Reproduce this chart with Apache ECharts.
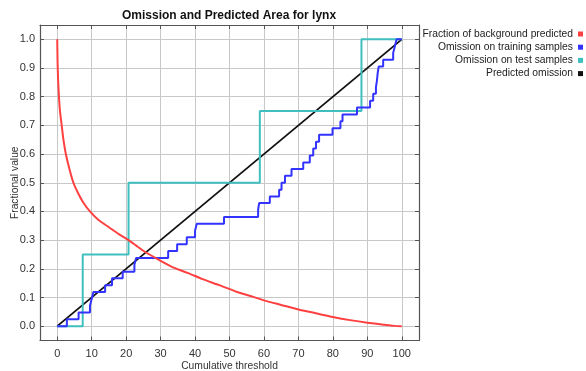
<!DOCTYPE html>
<html>
<head>
<meta charset="utf-8">
<script src="https://cdn.jsdelivr.net/npm/echarts@6/dist/echarts.min.js"></script>
<style>
  html, body { margin: 0; padding: 0; background: #ffffff; }
  #chart { width: 586px; height: 371px; }
</style>
</head>
<body>
<div id="chart"></div>
<script>
// Tick values for both axes
const xTicks = [0, 10, 20, 30, 40, 50, 60, 70, 80, 90, 100];
const yTicks = [0, 0.1, 0.2, 0.3, 0.4, 0.5, 0.6, 0.7, 0.8, 0.9, 1.0];

// Fraction of background predicted vs cumulative threshold
const fractionX = [0, 0.1, 0.25, 0.5, 0.8, 1.3, 1.8, 2.5, 3.5, 4.7, 6.0, 7.6, 9.5, 12, 15, 18, 20.7, 23, 26, 30, 34, 38, 42, 47, 52, 56.9, 60, 65, 70, 75, 80, 85, 90, 95, 98, 100];
const fractionY = [1.0, 0.92, 0.86, 0.80, 0.75, 0.70, 0.65, 0.60, 0.55, 0.50, 0.465, 0.43, 0.40, 0.37, 0.345, 0.32, 0.30, 0.28, 0.255, 0.228, 0.203, 0.185, 0.165, 0.143, 0.12, 0.102, 0.09, 0.074, 0.058, 0.045, 0.032, 0.021, 0.012, 0.005, 0.001, 0];

// Omission on training samples (steps at each sample's threshold)
const trainX = [0, 2.8, 6.2, 9.5, 10.0, 10.5, 13.9, 15.9, 19.0, 22.4, 22.9, 32.2, 34.8, 37.6, 40.0, 40.5, 48.4, 58.3, 58.6, 61.7, 64.4, 65.1, 66.1, 68.0, 71.4, 73.3, 74.3, 75.1, 76.0, 79.9, 82.2, 82.8, 87.0, 90.8, 91.7, 92.5, 92.8, 93.0, 93.3, 94.6, 97.5, 98.0, 98.5, 100];
const trainY = [0, 0.024, 0.048, 0.071, 0.095, 0.119, 0.143, 0.167, 0.190, 0.214, 0.238, 0.262, 0.286, 0.310, 0.333, 0.357, 0.381, 0.405, 0.429, 0.452, 0.476, 0.500, 0.524, 0.548, 0.571, 0.595, 0.619, 0.643, 0.667, 0.690, 0.714, 0.738, 0.762, 0.786, 0.810, 0.833, 0.857, 0.881, 0.905, 0.929, 0.952, 0.976, 1.0, 1.0];

// Omission on test samples
const testX = [0, 7.4, 20.7, 58.8, 88.3, 100];
const testY = [0, 0.25, 0.5, 0.75, 1.0, 1.0];

// Predicted omission
const predX = [0, 100];
const predY = [0, 1];

const names = ['Fraction of background predicted', 'Omission on training samples', 'Omission on test samples', 'Predicted omission'];
const colors = ['#ff4040', '#3333ff', '#3fbfbf', '#111111'];

const zip = (xs, ys) => xs.map((x, i) => [x, ys[i]]);
const font = "'Liberation Sans', Arial, sans-serif";
const frameColor = '#555555';

const chart = echarts.init(document.getElementById('chart'), null, { renderer: 'canvas' });

const baseX = {
  type: 'value', min: -5, max: 105,
  axisLine: { show: true, onZero: false, lineStyle: { color: frameColor, width: 1.2 } },
  axisTick: { show: true, inside: true, length: 4, customValues: xTicks, lineStyle: { color: frameColor } },
  splitLine: { show: false }
};
const baseY = {
  type: 'value', min: -0.05, max: 1.05,
  axisLine: { show: true, onZero: false, lineStyle: { color: frameColor, width: 1.2 } },
  axisTick: { show: true, inside: true, length: 4, customValues: yTicks, lineStyle: { color: frameColor } },
  splitLine: { show: false }
};

chart.setOption({
  backgroundColor: '#ffffff',
  animation: false,
  title: {
    text: 'Omission and Predicted Area for lynx',
    left: 122, top: 9.5, padding: 0,
    textStyle: { fontFamily: font, fontSize: 12, fontWeight: 'bold', color: '#111' }
  },
  legend: names.map((n, i) => ({
    data: [n], right: 3, top: 29 + i * 13.2, orient: 'vertical', align: 'right',
    icon: 'rect', itemWidth: 5, itemHeight: 5, padding: 0, selectedMode: false,
    textStyle: { fontFamily: font, fontSize: 10.3, color: '#222' }
  })),
  grid: { left: 40, top: 25, width: 379, height: 315.5, outerBoundsMode: 'none', containLabel: false },
  xAxis: [
    Object.assign({}, baseX, {
      position: 'bottom',
      name: 'Cumulative threshold', nameLocation: 'middle', nameGap: 21, nameMoveOverlap: false,
      nameTextStyle: { fontFamily: font, fontSize: 10.3, color: '#333' },
      axisLabel: { show: true, customValues: xTicks, margin: 8, fontFamily: font, fontSize: 11, color: '#333' },
      splitLine: { show: true, lineStyle: { color: '#c8c8c8', width: 1 } }
    }),
    Object.assign({}, baseX, { position: 'top', axisLabel: { show: false } })
  ],
  yAxis: [
    Object.assign({}, baseY, {
      position: 'left',
      name: 'Fractional value', nameLocation: 'middle', nameGap: 20, nameMoveOverlap: false,
      nameTextStyle: { fontFamily: font, fontSize: 10.3, color: '#333' },
      axisLabel: { show: true, customValues: yTicks, margin: 5, fontFamily: font, fontSize: 11, color: '#333',
        formatter: v => v.toFixed(1) },
      splitLine: { show: true, lineStyle: { color: '#c8c8c8', width: 1 } }
    }),
    Object.assign({}, baseY, { position: 'right', axisLabel: { show: false } })
  ],
  series: [
    { name: names[3], type: 'line', data: zip(predX, predY), symbol: 'none',
      lineStyle: { color: colors[3], width: 1.8 }, itemStyle: { color: colors[3] }, z: 2 },
    { name: names[2], type: 'line', step: 'end', data: zip(testX, testY), symbol: 'none',
      lineStyle: { color: colors[2], width: 2 }, itemStyle: { color: colors[2] }, z: 3 },
    { name: names[1], type: 'line', step: 'end', data: zip(trainX, trainY), symbol: 'none',
      lineStyle: { color: colors[1], width: 2 }, itemStyle: { color: colors[1] }, z: 4 },
    { name: names[0], type: 'line', data: zip(fractionX, fractionY), symbol: 'none', smooth: 0.2,
      lineStyle: { color: colors[0], width: 2 }, itemStyle: { color: colors[0] }, z: 5 }
  ]
});
</script>
</body>
</html>
